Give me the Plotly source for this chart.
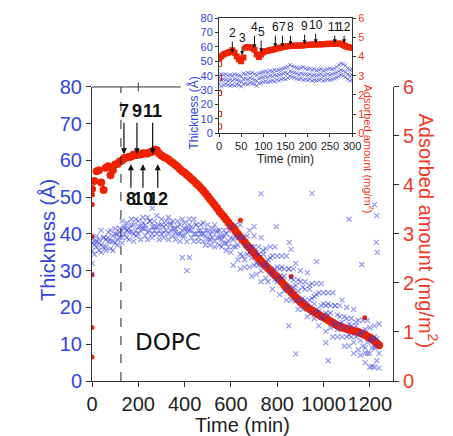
import plotly.graph_objects as go

# ---------------- data ----------------
time_grid = [0, 10, 20, 30, 40, 50, 60, 70, 80, 90, 100, 110, 120, 130, 140, 150, 160, 170, 180, 190,
             200, 210, 220, 230, 240, 250, 260, 270, 280, 290, 300, 310, 320, 330, 340, 350, 360, 370, 380, 390,
             400, 410, 420, 430, 440, 450, 460, 470, 480, 490, 500, 510, 520, 530, 540, 550, 560, 570, 580, 590,
             600, 610, 620, 630, 640, 650, 660, 670, 680, 690, 700, 710, 720, 730, 740, 750, 760, 770, 780, 790,
             800, 810, 820, 830, 840, 850, 860, 870, 880, 890, 900, 910, 920, 930, 940, 950, 960, 970, 980, 990,
             1000, 1010, 1020, 1030, 1040, 1050, 1060, 1070, 1080, 1090, 1100, 1110, 1120, 1130, 1140, 1150, 1160, 1170, 1180, 1190,
             1200, 1210, 1220, 1230, 1240]

# adsorbed amount (mg/m2), main plot
red_main = [3.92, 4.08, 4.28, 4.30, 4.05, 3.90, 4.35, 4.38, 4.20, 4.30, 4.42, 4.43, 4.48, 4.50, 4.55, 4.56, 4.57, 4.58, 4.62, 4.61,
            4.62, 4.62, 4.65, 4.64, 4.64, 4.67, 4.68, 4.72, 4.71, 4.64, 4.60, 4.57, 4.55, 4.52, 4.48, 4.45, 4.41, 4.37, 4.32, 4.28,
            4.25, 4.21, 4.17, 4.12, 4.08, 4.03, 3.99, 3.94, 3.89, 3.83, 3.77, 3.71, 3.65, 3.59, 3.53, 3.46, 3.41, 3.35, 3.29, 3.23,
            3.17, 3.12, 3.06, 3.00, 2.94, 2.88, 2.83, 2.77, 2.72, 2.66, 2.61, 2.55, 2.50, 2.45, 2.40, 2.35, 2.30, 2.26, 2.21, 2.16,
            2.12, 2.07, 2.02, 1.96, 1.91, 1.86, 1.81, 1.76, 1.71, 1.66, 1.61, 1.58, 1.54, 1.50, 1.47, 1.44, 1.41, 1.38, 1.35, 1.32,
            1.30, 1.27, 1.24, 1.22, 1.19, 1.16, 1.13, 1.11, 1.09, 1.08, 1.06, 1.05, 1.04, 1.02, 1.01, 1.00, 0.98, 0.96, 0.94, 0.91,
            0.88, 0.85, 0.81, 0.77, 0.73]
red_extra_t = [0, 0, 0, 0, 1, 2, 641, 860, 1178]
red_extra_v = [0.49, 1.09, 2.17, 2.95, 3.60, 3.80, 3.28, 2.13, 1.29]

# thickness (A), main plot: three readings per time step (upper, lower, middle of the scatter)
blue_a = [39, 38, 39.5, 38.5, 41, 39, 38.5, 40.5, 41, 39.5, 41.5, 40, 41.5, 43.5, 41.5, 43, 41.5, 44, 42.5, 44,
          43.5, 42, 44.5, 42.5, 44.5, 43.5, 42, 43.5, 45, 42.5, 44, 42, 43.5, 44.5, 42.5, 43.5, 41.5, 43.5, 42.5, 44,
          43, 41.5, 44, 42, 44, 42.5, 41, 42.5, 43, 41, 42.5, 40, 41.5, 42.5, 40.5, 41, 39.5, 41, 40, 41,
          42, 38.5, 42.5, 39, 42.5, 39, 37, 39.5, 41, 36.5, 39.5, 35, 36.5, 39, 34.5, 36, 33, 36.5, 34, 36.5,
          34, 30.5, 34, 30.5, 34, 30.5, 28, 30.5, 32, 27.5, 30, 25.5, 27, 29.5, 25, 26.5, 23, 26.5, 24, 26.5,
          24, 20.5, 24, 20.5, 24, 20.5, 18, 20.5, 22, 17.5, 20, 15.5, 17, 19.5, 15, 16.5, 13, 16.5, 14, 16.5,
          14.5, 11, 15, 11.5, 15.5]
blue_b = [35.5, 34.5, 36.5, 35.5, 35, 36.5, 35.5, 38, 36, 35.5, 37.5, 37, 39, 37.5, 40, 39, 38.5, 40.5, 38, 39.5,
          40, 38.5, 41.5, 39.5, 38.5, 41, 39, 41, 40, 38.5, 40, 39, 41, 38.5, 41, 39.5, 38.5, 40, 38, 39.5,
          39.5, 38, 41, 39, 38, 40, 38, 40, 38, 37, 38.5, 37, 39, 36.5, 39, 37, 36.5, 37.5, 35.5, 36.5,
          35, 31.5, 36.5, 33, 30.5, 34, 31, 34.5, 31, 28.5, 31.5, 29, 31.5, 27, 31.5, 28, 27, 29.5, 25, 27.5,
          27, 23.5, 28, 24.5, 22, 25.5, 22, 25.5, 22, 19.5, 22, 19.5, 22, 17.5, 22, 18.5, 17, 19.5, 15, 17.5,
          17, 13.5, 18, 14.5, 12, 15.5, 12, 15.5, 12, 9.5, 12, 9.5, 12, 7.5, 12, 8.5, 7, 9.5, 5, 7.5,
          7.5, 4, 9, 5.5, 3.5]
blue_c = [37.5, 37, 38, 37.5, 37, 39, 36.5, 39, 38, 38, 40, 38.5, 40.5, 39, 42, 41, 40.5, 42.5, 40, 41,
          42, 41, 43, 41.5, 40.5, 43.5, 40, 42, 42, 41, 42.5, 40.5, 42.5, 40, 43, 41.5, 40.5, 42, 40, 41,
          41.5, 40.5, 42.5, 41, 40, 42.5, 39, 41, 40, 39.5, 41, 38.5, 40.5, 38, 41, 39, 38.5, 39.5, 37.5, 38,
          39, 36.5, 39.5, 37, 34.5, 39, 33, 36.5, 35, 33.5, 36.5, 32, 34.5, 30, 35.5, 32, 31, 33.5, 29, 30.5,
          31, 28.5, 31, 28.5, 26, 30.5, 24, 27.5, 26, 24.5, 27, 22.5, 25, 20.5, 26, 22.5, 21, 23.5, 19, 20.5,
          21, 18.5, 21, 18.5, 16, 20.5, 14, 17.5, 16, 14.5, 17, 12.5, 15, 10.5, 16, 12.5, 11, 13.5, 9, 10.5,
          11.5, 9, 12, 9.5, 7.5]
blue_extra_t = [0, 1, 260, 390, 410, 421, 700, 730, 796, 850, 852, 860, 880, 950, 970, 1010, 1020, 1110,
                1165, 1180, 1200, 1220, 1220, 1228, 1230, 1232]
blue_extra_v = [29, 32, 47, 33.6, 30, 33.6, 42, 51, 42, 15, 37.7, 35.8, 7.4, 51, 32.5, 10.4, 5.5, 44,
                31.7, 7.6, 3.8, 3.8, 48, 37.7, 45, 35]

# inset (first 300 min)
inset_t = [0, 5, 10, 15, 20, 25, 30, 35, 40, 45, 50, 55, 60, 65, 70, 75, 80, 85, 90, 95,
           100, 105, 110, 115, 120, 125, 130, 135, 140, 145, 150, 155, 160, 165, 170, 175, 180, 185, 190, 195,
           200, 205, 210, 215, 220, 225, 230, 235, 240, 245, 250, 255, 260, 265, 270, 275, 280, 285, 290, 295, 300]
inset_red = [3.90, 4.00, 4.10, 4.15, 4.20, 4.25, 4.33, 4.20, 4.00, 3.85, 3.75, 3.95, 4.45, 4.50, 4.48, 4.43, 4.35, 4.10, 3.98, 4.10,
             4.22, 4.28, 4.30, 4.32, 4.35, 4.38, 4.42, 4.44, 4.47, 4.50, 4.52, 4.53, 4.55, 4.56, 4.57, 4.56, 4.58, 4.57, 4.58, 4.60,
             4.60, 4.62, 4.61, 4.63, 4.62, 4.64, 4.63, 4.65, 4.64, 4.66, 4.67, 4.66, 4.67, 4.66, 4.68, 4.66, 4.60, 4.55, 4.50, 4.47, 4.45]
inset_red_start = [0.35, 1.0, 2.1, 2.9, 3.6]
inset_blue_a = [39, 41, 40.5, 41, 40, 40.5, 40, 41, 40.5, 40, 39.5, 41.5, 41, 42, 41.5, 42, 41, 40.5, 41.5, 42,
                42.5, 43, 42.5, 43.5, 43, 44, 43.5, 44, 44.5, 45, 45.5, 46, 47.5, 46.5, 46, 45.5, 45, 45.5, 46, 45,
                44.5, 45, 44, 44.5, 43.5, 44, 44.5, 43.5, 44, 44.5, 45, 44.5, 45, 46, 47.5, 48.5, 48, 47, 45, 44, 44.5]
inset_blue_b = [29.5, 32.5, 33.5, 34, 33.5, 33, 33.5, 33, 34, 33.5, 32.5, 34, 34.5, 34, 35, 34.5, 34, 33, 34.5, 35,
                35.5, 36, 35.5, 36, 36.5, 36, 37, 36.5, 37.5, 38, 37.5, 38.5, 39.5, 39, 38.5, 38, 37.5, 38, 37, 37.5,
                37, 37.5, 36.5, 37, 36.5, 37, 37.5, 36.5, 37, 37.5, 37, 37.5, 38, 38.5, 39.5, 40.5, 40, 39, 37.5, 36.5, 37]
inset_blue_c = [34, 36.5, 37.5, 37, 36.5, 37, 36.5, 37.5, 37, 36.5, 36, 37.5, 38, 37.5, 38.5, 38, 37, 36.5, 38, 38.5,
                39, 39.5, 39, 40, 39.5, 40.5, 40, 40.5, 41, 41.5, 42, 41.5, 43, 42.5, 42, 41.5, 41, 41.5, 41, 41,
                40.5, 41, 40, 40.5, 40, 40.5, 41, 40, 40.5, 41, 40.5, 41, 41.5, 42, 43, 44, 43.5, 42.5, 41, 40, 40.5]

# arrows (step number, time, thickness at arrow head)
main_top_labels = ["7", "9", "11"]
main_top_t = [138, 194, 262]
main_top_y = [61.7, 61.7, 61.7]
main_bot_labels = ["8", "10", "12"]
main_bot_t = [168, 220, 284]
main_bot_y = [59.0, 59.0, 59.0]

inset_labels = ["2", "3", "4", "5", "6", "7", "8", "9", "10", "11", "12"]
inset_arrow_t = [30, 52, 80, 95, 127, 143, 161, 193, 218, 261, 282]
inset_arrow_y = [55.7, 54.3, 59.1, 56.3, 59.8, 59.8, 61.2, 61.9, 62.6, 62.6, 62.6]
inset_arrow_len = [-20, -17, -21, -20, -20, -20, -18, -18, -18, -16, -16]

x_ticks = [0, 200, 400, 600, 800, 1000, 1200]
x_range = [0, 1300]
dashed_t = 125

# ---------------- style ----------------
FONT = "Liberation Sans, Arial, sans-serif"
BLUE_TXT = "#3344e0"
RED_TXT = "#f03a28"
RED_MK = "#ee2200"
BLUE_MK = "rgba(45,55,225,0.5)"
AX = "#333333"

fig = go.Figure()

# main: red on y (right), blue on y2 (left, overlaying) so blue draws on top
fig.add_trace(go.Scatter(x=time_grid, y=red_main, mode="markers", xaxis="x", yaxis="y",
                         marker=dict(symbol="circle", size=8, color=RED_MK, line=dict(width=0))))
fig.add_trace(go.Scatter(x=red_extra_t, y=red_extra_v, mode="markers", xaxis="x", yaxis="y",
                         marker=dict(symbol="circle", size=5, color=RED_MK, line=dict(width=0))))
for vals in (blue_a, blue_b, blue_c):
    fig.add_trace(go.Scatter(x=time_grid, y=vals, mode="markers", xaxis="x", yaxis="y2",
                             marker=dict(symbol="x-thin-open", size=5, color=BLUE_MK, line=dict(width=1.2))))
fig.add_trace(go.Scatter(x=blue_extra_t, y=blue_extra_v, mode="markers", xaxis="x", yaxis="y2",
                         marker=dict(symbol="x-thin-open", size=5, color=BLUE_MK, line=dict(width=1.2))))

# inset
fig.add_trace(go.Scatter(x=inset_t, y=inset_red, mode="markers", xaxis="x3", yaxis="y3",
                         marker=dict(symbol="square", size=6, color=RED_MK, line=dict(width=0))))
fig.add_trace(go.Scatter(x=[0] * len(inset_red_start), y=inset_red_start, mode="markers", xaxis="x3", yaxis="y3",
                         marker=dict(symbol="square-open", size=5, color=RED_MK, line=dict(width=1))))
for vals in (inset_blue_a, inset_blue_b, inset_blue_c):
    fig.add_trace(go.Scatter(x=inset_t, y=vals, mode="markers", xaxis="x3", yaxis="y4",
                             marker=dict(symbol="x-thin-open", size=4, color="rgba(45,55,225,0.6)", line=dict(width=1))))

main_dom_top = 0.7925
common = dict(showgrid=False, zeroline=False, automargin=False, showline=True, linecolor=AX, linewidth=1,
              tickcolor=AX, ticks="outside")
fig.update_layout(
    width=453, height=436,
    margin=dict(l=92, r=60, t=10, b=55, autoexpand=False),
    paper_bgcolor="white", plot_bgcolor="white",
    showlegend=False,
    font=dict(family=FONT, color="#222"),
    xaxis=dict(domain=[0, 1], range=x_range, tickvals=x_ticks, ticklen=5, tickangle=0,
               tickfont=dict(size=20, color="#222"), anchor="y",
               title=dict(text="Time (min)", font=dict(size=20, color="#222"), standoff=4), **common),
    yaxis=dict(domain=[0, main_dom_top], range=[0, 6], side="right", anchor="x", dtick=1, ticklen=5,
               tickfont=dict(size=20, color=RED_TXT), **common),
    yaxis2=dict(overlaying="y", side="left", anchor="x", range=[0, 80], dtick=10, ticklen=5,
                tickfont=dict(size=20, color=BLUE_TXT), **common),
    xaxis3=dict(domain=[0.422, 0.864], anchor="y3", range=[0, 300], dtick=50, ticklen=3, tickangle=0,
                mirror=True, tickfont=dict(size=11, color="#222"),
                title=dict(text="Time (min)", font=dict(size=12, color="#222"), standoff=1), **common),
    yaxis3=dict(domain=[0.668, 0.978], anchor="x3", side="right", range=[0, 6], dtick=1, ticklen=3,
                tickfont=dict(size=11, color=RED_TXT), **common),
    yaxis4=dict(overlaying="y3", anchor="x3", side="left", range=[0, 80], dtick=10, ticklen=3,
                tickfont=dict(size=11, color=BLUE_TXT), **common),
)

shapes = [
    dict(type="line", xref="x", yref="y2", x0=dashed_t, x1=dashed_t, y0=0, y1=80,
         line=dict(color="#222", width=1, dash="dash")),
    dict(type="line", xref="x domain", yref="y domain", x0=0, x1=0.295, y0=1, y1=1,
         line=dict(color=AX, width=1)),
    dict(type="line", xref="x domain", yref="y domain", x0=200 / x_range[1], x1=200 / x_range[1], y0=0.985, y1=1.015,
         line=dict(color=AX, width=1)),
]
fig.update_layout(shapes=shapes)

ann = []
# axis titles
ann.append(dict(text="Thickness (Å)", xref="paper", yref="paper", x=(35 - 92) / 301, y=(381 - 240) / 371,
                textangle=-90, showarrow=False, font=dict(size=20, color=BLUE_TXT)))
ann.append(dict(text="Adsorbed amount (mg/m<sup>2</sup>)", xref="paper", yref="paper", x=(443 - 92) / 301,
                y=(381 - 231) / 371, textangle=90, showarrow=False, font=dict(size=20, color=RED_TXT)))
ann.append(dict(text="Thickness (Å)", xref="paper", yref="paper", x=(193 - 92) / 301, y=(381 - 75) / 371,
                textangle=-90, showarrow=False, font=dict(size=12, color=BLUE_TXT)))
ann.append(dict(text="Adsorbed amount (mg/m<sup>2</sup>)", xref="paper", yref="paper", x=(378 - 92) / 301,
                y=(381 - 82) / 371, textangle=90, showarrow=False, font=dict(size=11, color=RED_TXT)))
ann.append(dict(text="DOPC", xref="x", yref="y2", x=329, y=10.7, showarrow=False,
                font=dict(size=23, color="#111", family="DejaVu Sans")))
for lab, t, yv in zip(main_top_labels, main_top_t, main_top_y):
    ann.append(dict(text="<b>" + lab + "</b>", xref="x", yref="y2", x=t, y=yv, ax=0, ay=-43, showarrow=True,
                    arrowhead=2, arrowsize=1, arrowwidth=1.2, arrowcolor="#111",
                    font=dict(size=18, color="#111")))
for lab, t, yv in zip(main_bot_labels, main_bot_t, main_bot_y):
    ann.append(dict(text="<b>" + lab + "</b>", xref="x", yref="y2", x=t, y=yv, ax=0, ay=35, showarrow=True,
                    arrowhead=2, arrowsize=1, arrowwidth=1.2, arrowcolor="#111",
                    font=dict(size=18, color="#111")))
for lab, t, yv, ln in zip(inset_labels, inset_arrow_t, inset_arrow_y, inset_arrow_len):
    ann.append(dict(text=lab, xref="x3", yref="y4", x=t, y=yv, ax=0, ay=ln, showarrow=True,
                    arrowhead=2, arrowsize=0.8, arrowwidth=1, arrowcolor="#111",
                    font=dict(size=12, color="#111")))
fig.update_layout(annotations=ann)

fig.write_html("out.html", config={"displayModeBar": False},
               post_script="document.body.style.margin='0px';")
